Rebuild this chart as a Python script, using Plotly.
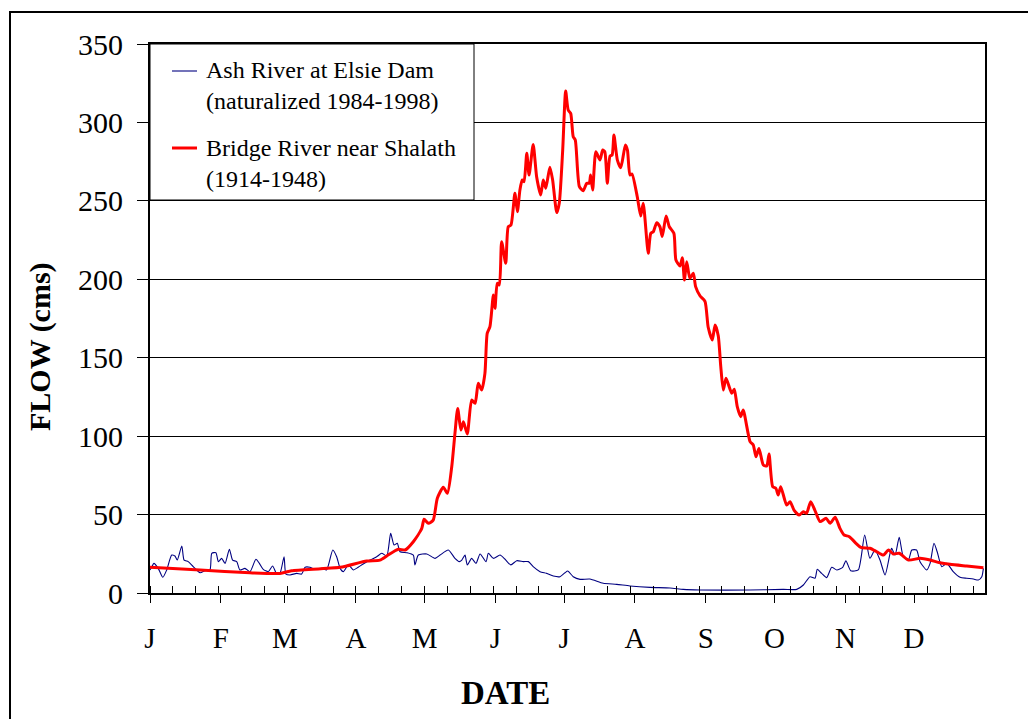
import plotly.graph_objects as go

# day of year (0 = 1 Jan) and flow in cms
ash_day = [0, 0.7, 1.7, 3.6, 5.6, 7.3, 9.5, 10.9, 11.9, 13.9, 14.9, 16.7, 18.9, 21.9, 24, 26.2, 27,
           28.8, 29.9, 31.3, 32.8, 34.7, 36.1, 37.9, 39.3, 41.5, 43.7, 46.3, 47.8, 49.5, 51.7, 53.6,
           55.4, 56.8, 58.6, 59.4, 61.2, 64.1, 66.3, 67.8, 69.9, 72.1, 75.1, 77.2, 79.9, 81.6, 83.1,
           84.5, 86.7, 88.9, 91, 93.2, 96.2, 99.1, 101.3, 103.5, 105.2, 106.7, 108.1, 109.3, 112.2,
           115.1, 115.8, 117.3, 121, 124.6, 126.8, 130.4, 133.3, 135.2, 136.3, 137.7, 138.7, 140.6,
           142.5, 144.3, 146.9, 147.9, 150.1, 153, 155.2, 157.7, 160.3, 163.2, 165.4, 167.5, 170.5,
           173.4, 176.3, 179.2, 181.4, 182.6, 185, 188, 192.3, 198.1, 204, 209.8, 218.6, 227.3,
           233.1, 240.4, 262.3, 276.8, 282.7, 285.6, 288.5, 290.7, 291.7, 293.6, 295.8, 298, 300.2,
           302.8, 304.2, 306.3, 309.6, 312.4, 314.7, 316.9, 319.1, 321.3, 323.5, 324.2, 325.7, 327.5,
           329.3, 331.5, 333, 335.1, 336.6, 339.5, 341, 342.7, 344.1, 346.1, 348.3, 351.1, 354.1,
           357, 359.9, 362.1, 363.6, 364.3]
ash_flow = [14.7, 16.4, 18.9, 15.7, 10, 14.7, 24.2, 23.6, 21, 30, 21, 20, 16.8, 12.9, 14.2, 14.7, 25.3,
            25.7, 20, 22.1, 18.9, 27.9, 21, 20, 14.7, 15.7, 13.6, 21.5, 18.9, 15.1, 13.6, 17.2,
            12.1, 12.5, 23.1, 12.1, 11.5, 12.5, 12.1, 16.4, 16.4, 15.1, 15.7, 14.7, 27.4, 23.1, 15.7,
            13.6, 17.9, 14.7, 16.4, 18.5, 21, 23.1, 25.3, 23.6, 38, 30.6, 31.7, 26.3, 25.7,
            24.2, 17.9, 24.2, 24.9, 22.1, 24.2, 27.4, 22.1, 20, 21, 24.2, 17.9, 22.1,
            18.9, 24.9, 20, 25.3, 22.1, 24.2, 21.5, 17.9, 20.6, 20, 20, 16.8, 13.6,
            12.5, 10.8, 10.4, 12.9, 14, 10.4, 8.7, 8.9, 6.2, 5.5, 4.5, 3.6, 3.2,
            2.3, 1.9, 1.9, 2.3, 2.3, 5.1, 10.4, 9.4, 15.1, 12.5, 9.8, 16.4, 14.7,
            16.4, 20.6, 14.2, 14.7, 37, 22.1, 27.4, 21, 11.5, 25.3, 28.5, 24.2, 35.5,
            23.1, 21, 27.4, 27.4, 20, 14.7, 18.9, 31.7, 26.3, 16.8, 18.9, 13.6, 10,
            9.4, 8.9, 8.3, 10.4, 15.7]

bridge_day = [0, 21.9, 43.7, 56.8, 61.9, 83.1, 94.7, 100.5, 103.5, 108.5, 111.5, 115.1, 118.8, 119.8,
              121.7, 123.8, 125.6, 128.2, 130, 131.9, 133.3, 134.5, 135.9, 137, 138.7, 140.6, 142.1,
              143.5, 145, 146.4, 147.4, 148.6, 150.1, 150.8, 151.8, 152.7, 153.7, 155.5, 156.6,
              157.8, 159.5, 160.6, 161.7, 162.7, 163.5, 164.7, 165.7, 167.5, 169, 170.8, 171.9, 173,
              174.8, 176, 177.8, 178.9, 180.4, 181.7, 182.8, 183.9, 185, 185.9, 187.7, 189.4, 190.9,
              192, 192.6, 193.5, 194.9, 196.7, 197.9, 198.8, 199.9, 201.1, 202, 202.8, 204.3, 205.8,
              207.8, 208.7, 209.8, 210.7, 213, 214.5, 215.6, 217.8, 218.9, 220, 221.5, 222.9, 223.9,
              225.6, 227, 229, 229.9, 231.7, 232.7, 233.6, 234.6, 236, 237.5, 238.5, 240.4, 242.6,
              244, 245.8, 247, 248.4, 249.5, 250.6, 251.8, 254.3, 255.4, 256.7, 258.2, 259.3, 262.3,
              263.7, 264.9, 266.2, 268.1, 269.6, 270.6, 272.2, 273.6, 274.6, 275.7, 278.3, 279.8,
              281.5, 283.8, 285.6, 287, 288.8, 290.6, 292.9, 295.5, 297.3, 299.5, 301.6, 303.4,
              305.7, 308.6, 310.7, 314.7, 317.7, 320.6, 322.8, 324.9, 327.5, 331.5, 336.6, 341,
              345.3, 349.7, 357, 364.3]
bridge_flow = [16.4, 14.7, 12.9, 12.5, 14.2, 16.4, 20.4, 21, 23.6, 27.9, 27.4, 32.7, 41.2, 47,
               44.4, 46.5, 60.4, 67.4, 63.6, 80.5, 101.8, 117.7, 103.9, 109.2, 101.4, 123, 120.9,
               133.7, 129.4, 140, 165.5, 169.8, 190, 181.5, 197.4, 196.4, 224, 210.2, 233.5,
               234.6, 254.8, 243.1, 256.9, 263.3, 262.2, 280.3, 266.5, 286, 265.4, 253.7, 263.3, 258,
               271.4, 263.3, 242.5, 248.5, 282.4, 320, 307.9, 305.8, 290.9, 288.8, 259, 256.5, 261.2,
               261.2, 266.5, 256.9, 281.3, 276, 282.4, 281.3, 261.2, 278.6, 279.2, 292, 276, 271.1,
               285.6, 282.4, 266.5, 267.1, 252.6, 240.3, 248.5, 216.6, 229.3, 230.3, 236.1, 233.5, 227.2,
               240.3, 233.5, 229.3, 212.3, 208.5, 213.8, 199.5, 211.2, 200.6, 203.8, 195.3, 189.5, 186,
               169.4, 161.3, 170.9, 164, 144.3, 129.4, 136.9, 127.3, 129.9, 118.8, 112.4, 116.7, 96.5,
               94.4, 86.9, 92.2, 81.6, 81, 88.6, 67.8, 66.7, 62.5, 67.8, 56.1, 58.2,
               52.9, 49.7, 51.8, 50.8, 58.2, 52.9, 45.5, 47.6, 44.4, 48.3, 41.2, 37,
               35.9, 31.7, 29.1, 28.5, 26.3, 24.2, 27.4, 24.9, 25.3, 21, 22.1, 21,
               19.3, 18.3, 17.2, 16.1]

month_start = [0, 31, 59, 90, 120, 151, 181, 212, 243, 273, 304, 334]
month_label = ["J", "F", "M", "A", "M", "J", "J", "A", "S", "O", "N", "D"]

SERIF = "Liberation Serif"
OFF = 8  # page body margin of the exported html
W, H = 1036 - OFF, 719 - OFF
# plot box in page pixels
L, R, T, B = 150, 985, 44, 593


def px(x):
    return (x - L) / (R - L)


def py(y):
    return (B - y) / (B - T)


fig = go.Figure()
fig.add_trace(go.Scatter(x=ash_day, y=ash_flow, mode="lines", name="Ash River at Elsie Dam",
                         line=dict(color="#000080", width=1.1, shape="spline", smoothing=0.6)))
fig.add_trace(go.Scatter(x=bridge_day, y=bridge_flow, mode="lines", name="Bridge River near Shalath",
                         line=dict(color="#FF0000", width=3, shape="spline", smoothing=0.6)))

shapes = [
    # outer frame (runs off the right/bottom edge like the reference)
    dict(type="rect", xref="paper", yref="paper", x0=px(10), x1=px(1060), y0=py(760), y1=py(12),
         line=dict(color="black", width=2), layer="above"),
    # legend box
    dict(type="rect", xref="paper", yref="paper", x0=0, x1=px(474), y0=py(200), y1=1,
         line=dict(color="black", width=1), fillcolor="white", layer="above"),
    dict(type="line", xref="paper", yref="paper", x0=px(172), x1=px(197), y0=py(71), y1=py(71),
         line=dict(color="#000080", width=1.1), layer="above"),
    dict(type="line", xref="paper", yref="paper", x0=px(172), x1=px(197), y0=py(148), y1=py(148),
         line=dict(color="#FF0000", width=3), layer="above"),
]

annotations = [
    dict(xref="paper", yref="paper", x=px(204), y=py(86), xanchor="left", yanchor="middle",
         align="left", showarrow=False, text="Ash River at Elsie Dam<br>(naturalized 1984-1998)",
         font=dict(family=SERIF, size=24, color="black")),
    dict(xref="paper", yref="paper", x=px(204), y=py(163.5), xanchor="left", yanchor="middle",
         align="left", showarrow=False, text="Bridge River near Shalath<br>(1914-1948)",
         font=dict(family=SERIF, size=24, color="black")),
    dict(xref="paper", yref="paper", x=px(40), y=py(346), xanchor="center", yanchor="middle",
         textangle=-90, showarrow=False,
         text="<b>FLOW (cms)</b>", font=dict(family=SERIF, size=30, color="black")),
    dict(xref="paper", yref="paper", x=px(505), y=py(693), xanchor="center", yanchor="middle",
         showarrow=False, text="<b>DATE</b>", font=dict(family=SERIF, size=33, color="black")),
]

fig.update_layout(
    width=W, height=H,
    margin=dict(l=L - OFF, r=1036 - R, t=T - OFF, b=719 - B),
    paper_bgcolor="white", plot_bgcolor="white",
    showlegend=False,
    shapes=shapes, annotations=annotations,
    font=dict(family=SERIF, color="black"),
)
fig.update_xaxes(
    range=[0, 365], tickmode="array", tickvals=month_start, ticktext=month_label,
    ticks="outside", ticklen=8, tickwidth=1, tickcolor="black",
    tickfont=dict(family=SERIF, size=29), ticklabelstandoff=10,
    showgrid=False, zeroline=False,
    showline=True, linewidth=2, linecolor="black", mirror=True,
    minor=dict(ticks="inside", ticklen=7, tickwidth=1, tickcolor="black", tick0=0, dtick=10,
               showgrid=False),
)
fig.update_yaxes(
    range=[0, 350], tickmode="linear", tick0=0, dtick=50,
    ticks="outside", ticklen=11, tickwidth=1, tickcolor="black",
    tickfont=dict(family=SERIF, size=30), ticklabelstandoff=8,
    showgrid=True, gridcolor="black", gridwidth=1, zeroline=False,
    showline=True, linewidth=2, linecolor="black", mirror=True,
)

fig.write_html("out.html")
